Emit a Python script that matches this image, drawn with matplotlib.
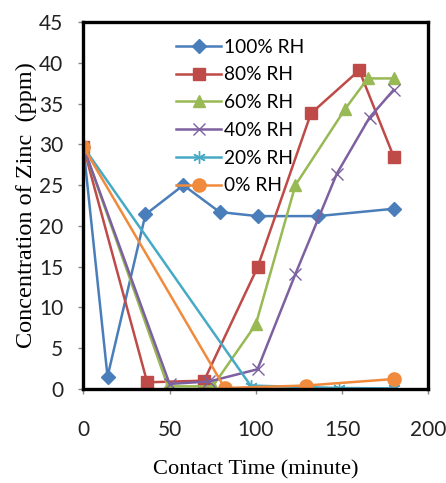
import matplotlib
matplotlib.use("Agg")
import matplotlib.pyplot as plt

labels = ["100% RH", "80% RH", "60% RH", "40% RH", "20% RH", "0% RH"]
x100 = [0, 14, 36, 58, 79, 101, 136, 180]
y100 = [29.7, 1.5, 21.4, 25.0, 21.7, 21.2, 21.2, 22.1]
x80 = [0, 37, 70, 101, 132, 160, 180]
y80 = [29.7, 0.8, 1.0, 14.9, 33.8, 39.1, 28.5]
x60 = [0, 49, 75, 100, 123, 152, 165, 180]
y60 = [29.7, 0.3, 0.3, 7.9, 25.0, 34.4, 38.1, 38.1]
x40 = [0, 50, 73, 101, 123, 147, 166, 180]
y40 = [29.7, 0.6, 0.9, 2.4, 14.1, 26.4, 33.3, 36.7]
x20 = [0, 97, 148, 180]
y20 = [29.7, 0.4, 0.1, 0.05]
x0 = [0, 82, 129, 180]
y0 = [29.7, 0.1, 0.4, 1.2]

xticks = [0, 50, 100, 150, 200]
yticks = [0, 5, 10, 15, 20, 25, 30, 35, 40, 45]

series = [(x100, y100), (x80, y80), (x60, y60), (x40, y40), (x20, y20), (x0, y0)]
colors = ["#4A7EBB", "#BE4B48", "#98B954", "#7D60A0", "#46AAC5", "#F08A3C"]
markers = ["D", "s", "^", "x", "*", "o"]
msizes = [7, 9, 8.5, 9, 9, 9.5]

tick_font = "Lato"
serif = "Liberation Serif"

fig = plt.figure(figsize=(4.46, 4.83), dpi=100)
ax = fig.add_axes([0.187, 0.195, 0.773, 0.759])

for (xs, ys), c, m, ms, lab in zip(series, colors, markers, msizes, labels):
    kw = dict(color=c, lw=1.8, marker=m, markersize=ms, label=lab)
    if m in ("x", "*"):
        kw.update(markeredgewidth=1.0, markerfacecolor="none")
        if m == "*":
            kw.update(marker=(6, 2, 0))
    ax.plot(xs, ys, **kw)

ax.set_xlim(0, 200)
ax.set_ylim(0, 45)
ax.set_xticks(xticks)
ax.set_yticks(yticks)
for s in ax.spines.values():
    s.set_linewidth(2.4)
    s.set_color("black")
ax.tick_params(axis="both", direction="out", length=3.6, width=1, color="#888888")
ax.tick_params(axis="x", pad=18.5)
ax.tick_params(axis="y", pad=10.8)
for t in ax.get_xticklabels() + ax.get_yticklabels():
    t.set_fontfamily(tick_font)
    t.set_fontsize(15)
    t.set_color("#222222")

ax.set_xlabel("Contact Time (minute)", fontfamily=serif, fontsize=16.2)
ax.set_ylabel("Concentration of Zinc  (ppm)", fontfamily=serif, fontsize=17.5)
ax.xaxis.set_label_coords(0.5, -0.194)
ax.yaxis.set_label_coords(-0.136, 0.5)

leg = ax.legend(loc="upper left", bbox_to_anchor=(0.27, 0.955), frameon=False,
                prop={"family": tick_font, "size": 13.8}, handlelength=2.3,
                handletextpad=0.2, labelspacing=0.56, borderpad=0, borderaxespad=0)

fig.savefig("out.png", dpi=100)
